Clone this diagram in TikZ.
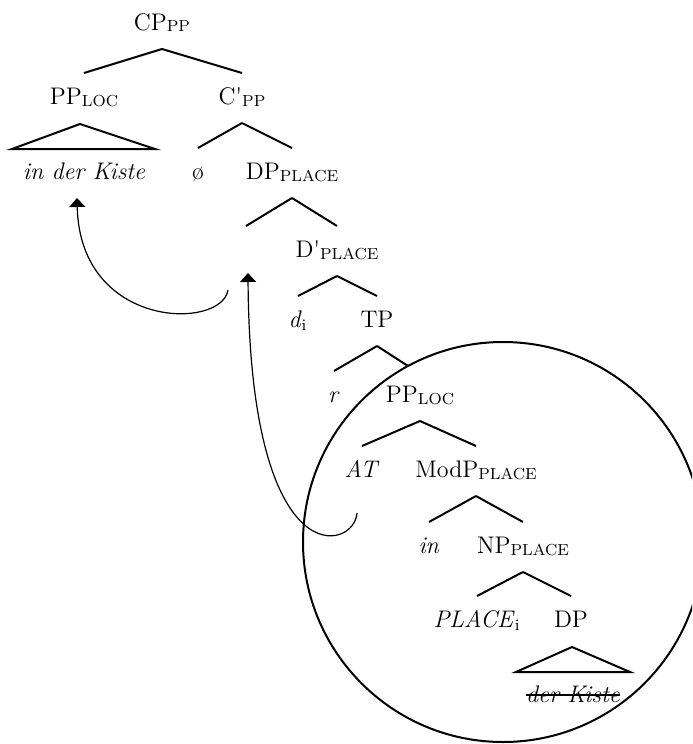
\documentclass[tikz,border=0pt]{standalone}
\usetikzlibrary{calc,arrows.meta}
\newcommand{\subcap}[1]{\raisebox{-1pt}{\fontsize{8}{8}\selectfont #1}}
\newcommand{\branch}[2]{\draw[edge] ($(#1.base)+(0,19)$) -- ($(#2.base)+(0,-31)$);}
\tikzset{
  lab/.style={anchor=base, inner sep=0pt},
  edge/.style={line width=1pt},
  move/.style={-{Triangle[width=8pt,length=4.5pt]}, line width=0.6pt}
}
\begin{document}
\begin{tikzpicture}[x=0.5pt,y=-0.5pt,font=\fontsize{12}{14}\selectfont]
\useasboundingbox (0,0) rectangle (692,744);
\clip (0,0) rectangle (692,744);
\node[lab] (cp) at (162,30) {CP\subcap{PP}};
\node[lab] (pploc) at (84,104) {PP\subcap{LOC}};
\node[lab] (cbar) at (242,104) {C\textquotesingle\subcap{PP}};
\node[lab] (kiste) at (84,179) {\textit{in der Kiste}};
\node[lab] (null) at (198,179) {ø};
\node[lab] (dpplace) at (292,179) {DP\subcap{PLACE}};
\node[lab] (trace) at (246,257) {};
\node[lab] (dbar) at (337,257) {D\textquotesingle\subcap{PLACE}};
\node[lab] (di) at (298,327) {\textit{d}\textsubscript{i}};
\node[lab] (tp) at (377,327) {TP};
\node[lab] (r) at (334,402) {\textit{r}};
\node[lab] (pploc2) at (420,402) {PP\subcap{LOC}};
\node[lab] (at) at (362,477) {\textit{AT}};
\node[lab] (modp) at (476,477) {ModP\subcap{PLACE}};
\node[lab] (in) at (429,553) {\textit{in}};
\node[lab] (npplace) at (523,553) {NP\subcap{PLACE}};
\node[lab] (place) at (477,627) {\textit{PLACE}\textsubscript{i}};
\node[lab] (dp) at (571,627) {DP};
\node[lab] (derkiste) at (573,702) {\textit{der Kiste}};
\draw[line width=0.7pt] ($(derkiste.west)+(0,1)$) -- ($(derkiste.east)+(0,1)$);

\branch{cp}{pploc}
\branch{cp}{cbar}
\branch{cbar}{null}
\branch{cbar}{dpplace}
\branch{dpplace}{trace}
\branch{dpplace}{dbar}
\branch{dbar}{di}
\branch{dbar}{tp}
\branch{tp}{r}
\draw[edge] ($(tp.base)+(0,19)$) -- ($(pploc2.base)+(-12,-36)$);
\branch{pploc2}{at}
\branch{pploc2}{modp}
\branch{modp}{in}
\branch{modp}{npplace}
\branch{npplace}{place}
\branch{npplace}{dp}
\draw[edge] ($(pploc.base)+(-4,20)$) -- ($(kiste.base)+(-72,-30)$) -- ($(kiste.base)+(71,-30)$) -- cycle;
\draw[edge] ($(dp.base)+(1,20)$) -- ($(derkiste.base)+(-57,-30)$) -- ($(derkiste.base)+(57,-30)$) -- cycle;

\draw[line width=1pt] (503,542) circle[radius=100pt];

\draw[move] ($(trace.base)+(-18,33)$) .. controls (222,330) and (80,330) .. ($(kiste.base)+(-7,19)$);
\draw[move] ($(at.base)+(-5,36)$) .. controls (355,550) and (250,580) .. ($(trace.base)+(2,16)$);
\end{tikzpicture}
\end{document}
